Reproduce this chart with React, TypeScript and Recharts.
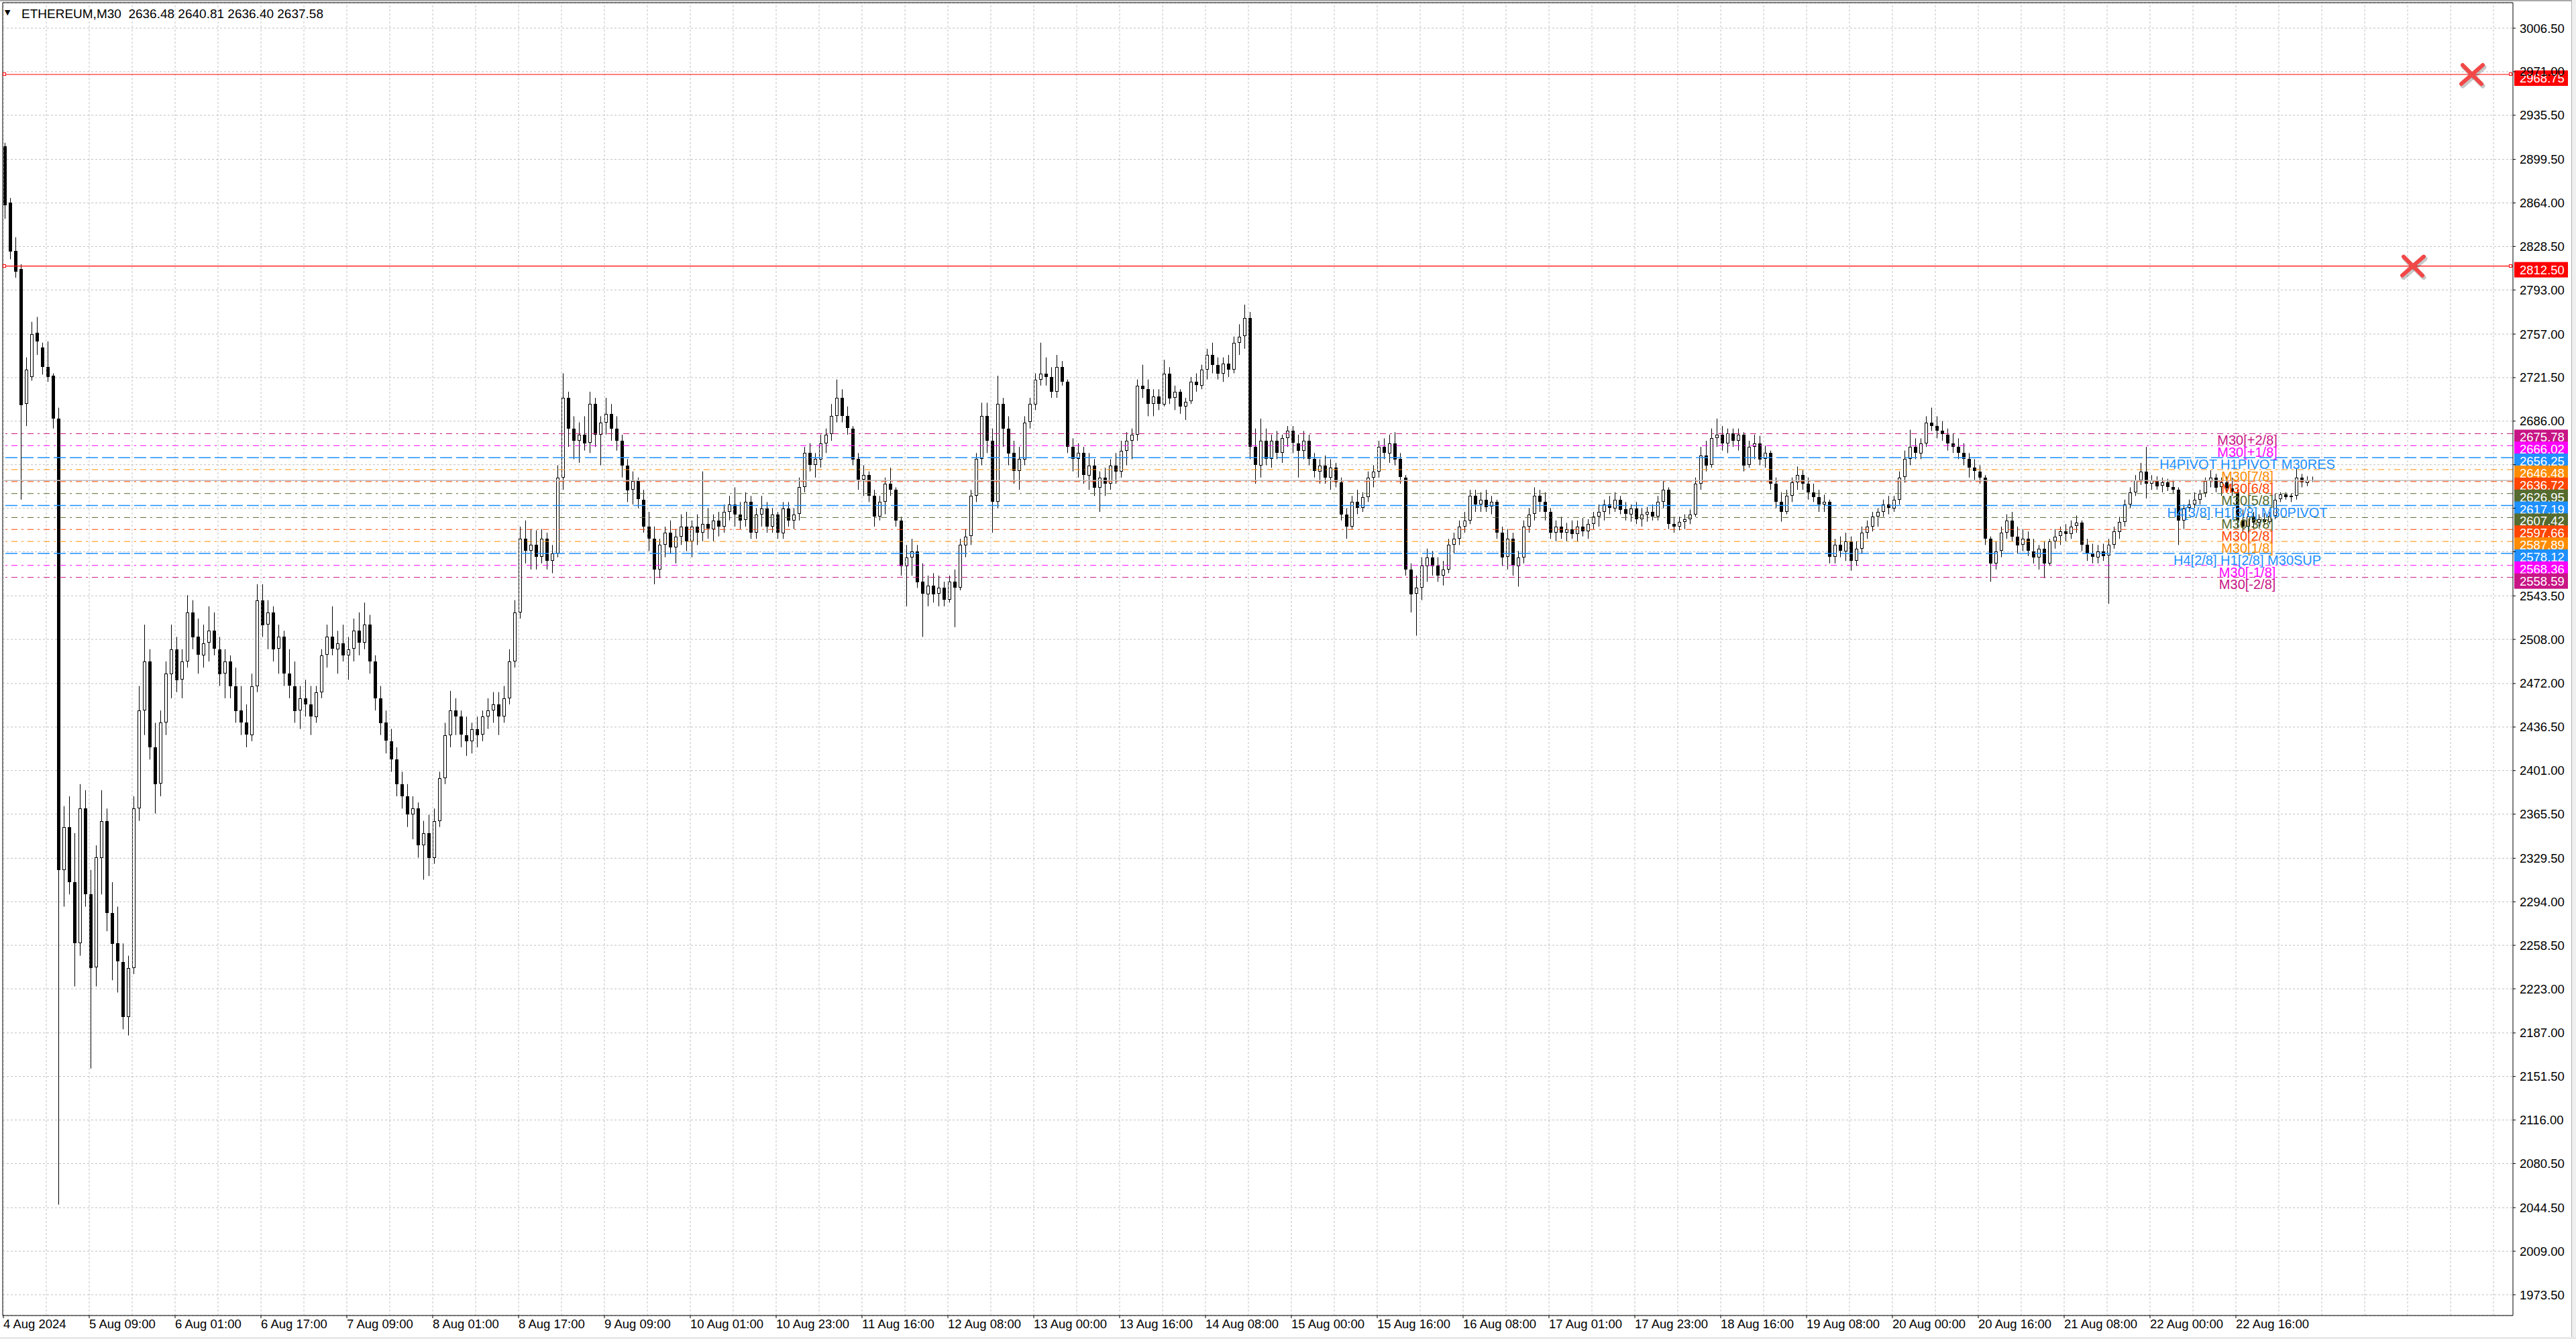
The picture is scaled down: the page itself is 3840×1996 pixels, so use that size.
import React from 'react'
import { ComposedChart, Bar, XAxis, YAxis, CartesianGrid, ReferenceLine, ReferenceDot } from 'recharts'

// ETHEREUM M30, grouped two bars per candle (1h)
const opens = [
  2910, 2864, 2825, 2810, 2700, 2722, 2758, 2746, 2730, 2723,
  2688, 2320, 2355, 2310, 2260, 2370, 2300, 2240, 2330, 2360,
  2285, 2260, 2245, 2200, 2240, 2370, 2450, 2490, 2420, 2390,
  2440, 2480, 2500, 2475, 2490, 2530, 2510, 2495, 2505, 2515,
  2500, 2480, 2490, 2470, 2450, 2440, 2430, 2470, 2540, 2520,
  2530, 2500, 2510, 2480, 2470, 2450, 2460, 2455, 2445, 2465,
  2495, 2510, 2500, 2505, 2495, 2500, 2515, 2505, 2520, 2490,
  2460, 2440, 2425, 2410, 2390, 2380, 2365, 2370, 2340, 2350,
  2330, 2360, 2395, 2430, 2450, 2445, 2430, 2425, 2435, 2430,
  2445, 2450, 2455, 2445, 2460, 2490, 2530, 2590, 2580, 2585,
  2575, 2590, 2572, 2578, 2640, 2705, 2680, 2670, 2675, 2668,
  2700, 2675, 2685, 2692, 2680, 2670, 2650, 2630, 2637, 2622,
  2600, 2590, 2565, 2585, 2595, 2583, 2592, 2600, 2588, 2600,
  2595, 2602, 2598, 2605, 2600, 2612, 2618, 2610, 2605, 2620,
  2595, 2610, 2615, 2600, 2610, 2595, 2615, 2605, 2610, 2632,
  2660, 2650, 2655, 2668, 2675, 2690, 2705, 2690, 2680, 2655,
  2638, 2642, 2625, 2608, 2620, 2635, 2630, 2605, 2568, 2575,
  2580, 2555, 2545, 2552, 2545, 2550, 2540, 2555, 2550, 2585,
  2592, 2625, 2655, 2690, 2670, 2620, 2700, 2680, 2660, 2645,
  2655, 2685, 2700, 2720, 2725, 2722, 2710, 2730, 2718, 2665,
  2655, 2660, 2642, 2650, 2632, 2640, 2635, 2650, 2645, 2662,
  2670, 2675, 2715, 2712, 2700, 2706, 2700, 2725, 2705, 2710,
  2698, 2702, 2718, 2715, 2728, 2740, 2732, 2725, 2733, 2728,
  2750, 2755, 2770, 2665, 2650, 2670, 2655, 2670, 2660, 2672,
  2678, 2668, 2662, 2670, 2655, 2645, 2650, 2640, 2648, 2636,
  2610, 2600, 2620, 2615, 2624, 2640, 2645, 2665, 2660, 2668,
  2655, 2640, 2565, 2545, 2550, 2568, 2575, 2568, 2560, 2565,
  2585, 2590, 2600, 2605, 2625, 2618, 2622, 2616, 2620, 2595,
  2575, 2590, 2568, 2575, 2600, 2610, 2625, 2620, 2612, 2595,
  2600, 2595, 2598, 2594, 2600, 2596, 2602, 2608, 2612, 2618,
  2615, 2622, 2614, 2610, 2615, 2606, 2610, 2612, 2608, 2620,
  2630, 2602, 2600, 2604, 2606, 2610, 2635, 2658, 2650, 2672,
  2675, 2668, 2676, 2670, 2675, 2650, 2665, 2668, 2655, 2660,
  2635, 2620, 2612, 2625, 2636, 2642, 2635, 2628, 2624, 2618,
  2620, 2575, 2585, 2580, 2588, 2572, 2582, 2595, 2600, 2608,
  2612, 2618, 2615, 2622, 2640, 2655, 2665, 2660, 2668, 2685,
  2682, 2678, 2675, 2668, 2665, 2660, 2655, 2648, 2645, 2640,
  2590, 2570, 2580, 2595, 2605, 2592, 2585, 2590, 2580, 2575,
  2582, 2570, 2588, 2592, 2596, 2594, 2600, 2603, 2585, 2578,
  2575, 2580, 2576, 2585, 2596, 2604, 2618, 2628, 2638, 2645,
  2635, 2638, 2633, 2636, 2632, 2630, 2605, 2615, 2618, 2622,
  2627, 2637, 2640, 2632, 2636, 2631, 2628, 2605, 2600, 2608,
  2603, 2606, 2604, 2609, 2622, 2626, 2624, 2625, 2640, 2636, 2637,
]
const highs = [
  2913, 2868, 2836, 2814, 2738, 2767, 2771, 2750, 2751, 2725,
  2697, 2372, 2380, 2350, 2390, 2385, 2320, 2340, 2385, 2370,
  2310, 2290, 2260, 2250, 2380, 2470, 2520, 2500, 2440, 2450,
  2490, 2520, 2510, 2500, 2544, 2540, 2525, 2520, 2535, 2530,
  2510, 2500, 2495, 2485, 2470, 2455, 2480, 2553, 2553, 2540,
  2535, 2520, 2515, 2500, 2490, 2470, 2475, 2470, 2470, 2500,
  2520, 2535, 2515, 2520, 2510, 2525, 2530, 2538, 2528, 2495,
  2470, 2450, 2435, 2420, 2400, 2390, 2380, 2375, 2360, 2365,
  2370, 2400, 2440, 2466, 2460, 2450, 2445, 2440, 2445, 2450,
  2460, 2465, 2465, 2470, 2500, 2540, 2600, 2605, 2598, 2597,
  2598, 2595, 2585, 2650, 2725, 2710, 2690, 2685, 2690, 2710,
  2705, 2690, 2705, 2700, 2690, 2675, 2655, 2645, 2640, 2630,
  2612, 2600, 2590, 2600, 2605, 2598, 2610, 2612, 2605, 2610,
  2645, 2615, 2610, 2612, 2618, 2625, 2632, 2620, 2628, 2625,
  2615, 2625, 2620, 2615, 2612, 2620, 2620, 2615, 2640, 2665,
  2668, 2660, 2675, 2680, 2700, 2720, 2712, 2698, 2682, 2660,
  2650, 2645, 2630, 2625, 2640, 2648, 2632, 2608, 2585, 2590,
  2585, 2570, 2560, 2562, 2560, 2555, 2560, 2565, 2590, 2598,
  2630, 2660, 2701, 2701, 2680, 2723, 2705, 2690, 2670, 2665,
  2690, 2705, 2725, 2750, 2738, 2730, 2740, 2735, 2720, 2672,
  2668, 2665, 2660, 2655, 2645, 2648, 2655, 2660, 2670, 2677,
  2680, 2720, 2732, 2720, 2712, 2712, 2736, 2730, 2715, 2712,
  2705, 2722, 2725, 2732, 2745, 2750, 2738, 2738, 2740, 2755,
  2765, 2781, 2775, 2680, 2688, 2680, 2675, 2678, 2675, 2682,
  2682, 2675, 2678, 2675, 2660, 2655, 2658, 2655, 2652, 2640,
  2615, 2625, 2630, 2628, 2645, 2650, 2670, 2672, 2675, 2677,
  2660, 2642, 2570, 2560, 2575, 2582, 2580, 2575, 2572, 2590,
  2595, 2605, 2612, 2630, 2630, 2628, 2630, 2625, 2622, 2600,
  2598, 2595, 2580, 2605, 2615, 2632, 2630, 2628, 2615, 2605,
  2608, 2603, 2605, 2605, 2607, 2606, 2612, 2618, 2622, 2625,
  2628, 2625, 2620, 2618, 2620, 2615, 2616, 2618, 2625, 2637,
  2632, 2608, 2608, 2610, 2614, 2640, 2665, 2670, 2680, 2688,
  2682, 2680, 2680, 2680, 2677, 2670, 2675, 2674, 2666, 2662,
  2640, 2628, 2630, 2640, 2649, 2646, 2640, 2635, 2630, 2626,
  2622, 2590, 2592, 2595, 2592, 2588, 2600, 2605, 2612, 2615,
  2622, 2625, 2625, 2645, 2662, 2679, 2672, 2672, 2690, 2697,
  2690, 2686, 2680, 2676, 2672, 2668, 2660, 2655, 2650, 2642,
  2592, 2588, 2600, 2610, 2612, 2600, 2598, 2596, 2590, 2585,
  2588, 2590, 2598, 2600, 2602, 2605, 2609, 2605, 2590, 2586,
  2585, 2586, 2590, 2600, 2608, 2622, 2632, 2642, 2652, 2665,
  2642, 2641, 2640, 2639, 2638, 2632, 2618, 2622, 2628, 2630,
  2640, 2646, 2643, 2640, 2641, 2640, 2630, 2614, 2612, 2612,
  2610, 2611, 2612, 2627, 2628, 2628, 2627, 2647, 2643, 2641, 2640.81,
]
const lows = [
  2851, 2818, 2803, 2622, 2682, 2719, 2740, 2724, 2718, 2680,
  2047, 2290, 2300, 2225, 2250, 2290, 2158, 2225, 2300, 2270,
  2230, 2220, 2190, 2185, 2235, 2360, 2430, 2410, 2366, 2380,
  2430, 2460, 2465, 2460, 2485, 2500, 2480, 2485, 2490, 2495,
  2470, 2460, 2460, 2440, 2430, 2420, 2425, 2465, 2510, 2500,
  2490, 2480, 2470, 2460, 2440, 2435, 2445, 2430, 2440, 2460,
  2485, 2495, 2480, 2490, 2475, 2490, 2495, 2500, 2480, 2450,
  2430, 2415, 2400, 2380, 2370, 2355, 2345, 2330, 2312, 2315,
  2325, 2355, 2390, 2420, 2430, 2420, 2413, 2415, 2420, 2425,
  2435, 2440, 2430, 2440, 2455, 2485, 2525, 2570, 2565, 2565,
  2570, 2565, 2562, 2575, 2630, 2665, 2655, 2652, 2662, 2660,
  2665, 2650, 2675, 2670, 2662, 2640, 2620, 2618, 2615, 2595,
  2580, 2553, 2558, 2575, 2578, 2570, 2585, 2580, 2575, 2585,
  2588, 2590, 2588, 2592, 2595, 2605, 2600, 2598, 2600, 2590,
  2590, 2600, 2595, 2595, 2590, 2590, 2600, 2598, 2605, 2628,
  2645, 2640, 2648, 2660, 2670, 2685, 2685, 2675, 2650, 2630,
  2625, 2620, 2600, 2605, 2610, 2625, 2600, 2560, 2535, 2560,
  2550, 2510, 2535, 2538, 2535, 2535, 2538, 2518, 2548, 2575,
  2585, 2620, 2650, 2660, 2595, 2615, 2665, 2650, 2635, 2630,
  2650, 2680, 2695, 2715, 2715, 2705, 2705, 2715, 2660, 2645,
  2640, 2635, 2630, 2625, 2612, 2625, 2630, 2635, 2640, 2650,
  2655, 2670, 2705, 2690, 2690, 2695, 2698, 2700, 2695, 2692,
  2687, 2700, 2710, 2712, 2720, 2725, 2720, 2718, 2722, 2725,
  2740, 2745, 2655, 2635, 2640, 2650, 2648, 2655, 2652, 2665,
  2660, 2640, 2655, 2650, 2640, 2635, 2635, 2630, 2632, 2605,
  2590, 2598, 2610, 2612, 2620, 2632, 2640, 2655, 2652, 2650,
  2635, 2560, 2530, 2511, 2540, 2555, 2560, 2555, 2552, 2562,
  2578, 2585, 2595, 2602, 2612, 2612, 2612, 2610, 2590, 2568,
  2565, 2560, 2551, 2570, 2595, 2605, 2612, 2605, 2590, 2588,
  2590, 2588, 2590, 2588, 2592, 2590, 2598, 2600, 2605, 2610,
  2612, 2610, 2605, 2604, 2602, 2600, 2604, 2605, 2605, 2615,
  2598, 2595, 2597, 2598, 2602, 2608, 2630, 2645, 2648, 2665,
  2662, 2660, 2665, 2662, 2645, 2648, 2655, 2650, 2648, 2630,
  2615, 2604, 2610, 2620, 2630, 2630, 2622, 2620, 2612, 2612,
  2570, 2570, 2575, 2572, 2564, 2568, 2578, 2590, 2596, 2600,
  2608, 2610, 2612, 2618, 2636, 2650, 2655, 2655, 2665, 2678,
  2672, 2670, 2662, 2660, 2655, 2650, 2640, 2638, 2635, 2585,
  2555, 2565, 2575, 2590, 2588, 2578, 2580, 2576, 2570, 2565,
  2558, 2568, 2582, 2585, 2588, 2590, 2595, 2580, 2572, 2570,
  2570, 2572, 2537, 2582, 2590, 2600, 2615, 2625, 2634, 2623,
  2630, 2630, 2628, 2629, 2627, 2585, 2598, 2612, 2615, 2618,
  2624, 2632, 2628, 2625, 2628, 2625, 2599, 2596, 2595, 2598,
  2600, 2601, 2602, 2606, 2620, 2622, 2620, 2622, 2632, 2633, 2636.4,
]
const closes = [
  2862, 2824, 2808, 2699, 2728, 2757, 2751, 2730, 2722, 2688,
  2320, 2355, 2310, 2260, 2370, 2300, 2240, 2330, 2360, 2285,
  2260, 2245, 2200, 2240, 2370, 2450, 2490, 2420, 2390, 2440,
  2480, 2500, 2475, 2490, 2530, 2510, 2495, 2505, 2515, 2500,
  2480, 2490, 2470, 2450, 2440, 2430, 2470, 2540, 2520, 2530,
  2500, 2510, 2480, 2470, 2450, 2460, 2455, 2445, 2465, 2495,
  2510, 2500, 2505, 2495, 2500, 2515, 2505, 2520, 2490, 2460,
  2440, 2425, 2410, 2390, 2380, 2365, 2370, 2340, 2350, 2330,
  2360, 2395, 2430, 2450, 2445, 2430, 2425, 2435, 2430, 2445,
  2450, 2455, 2445, 2460, 2490, 2530, 2590, 2580, 2585, 2575,
  2590, 2572, 2578, 2640, 2705, 2680, 2670, 2675, 2668, 2700,
  2675, 2685, 2692, 2680, 2670, 2650, 2630, 2637, 2622, 2600,
  2590, 2565, 2585, 2595, 2583, 2592, 2600, 2588, 2600, 2595,
  2602, 2598, 2605, 2600, 2612, 2618, 2610, 2605, 2620, 2595,
  2610, 2615, 2600, 2610, 2595, 2615, 2605, 2610, 2632, 2660,
  2650, 2655, 2668, 2675, 2690, 2705, 2690, 2680, 2655, 2638,
  2642, 2625, 2608, 2620, 2635, 2630, 2605, 2568, 2575, 2580,
  2555, 2545, 2552, 2545, 2550, 2540, 2555, 2550, 2585, 2592,
  2625, 2655, 2690, 2670, 2620, 2700, 2680, 2660, 2645, 2655,
  2685, 2700, 2720, 2725, 2722, 2710, 2730, 2718, 2665, 2655,
  2660, 2642, 2650, 2632, 2640, 2635, 2650, 2645, 2662, 2670,
  2675, 2715, 2712, 2700, 2706, 2700, 2725, 2705, 2710, 2698,
  2702, 2718, 2715, 2728, 2740, 2732, 2725, 2733, 2728, 2750,
  2755, 2770, 2665, 2650, 2670, 2655, 2670, 2660, 2672, 2678,
  2668, 2662, 2670, 2655, 2645, 2650, 2640, 2648, 2636, 2610,
  2600, 2620, 2615, 2624, 2640, 2645, 2665, 2660, 2668, 2655,
  2640, 2565, 2545, 2550, 2568, 2575, 2568, 2560, 2565, 2585,
  2590, 2600, 2605, 2625, 2618, 2622, 2616, 2620, 2595, 2575,
  2590, 2568, 2575, 2600, 2610, 2625, 2620, 2612, 2595, 2600,
  2595, 2598, 2594, 2600, 2596, 2602, 2608, 2612, 2618, 2615,
  2622, 2614, 2610, 2615, 2606, 2610, 2612, 2608, 2620, 2630,
  2602, 2600, 2604, 2606, 2610, 2635, 2658, 2650, 2672, 2675,
  2668, 2676, 2670, 2675, 2650, 2665, 2668, 2655, 2660, 2635,
  2620, 2612, 2625, 2636, 2642, 2635, 2628, 2624, 2618, 2620,
  2575, 2585, 2580, 2588, 2572, 2582, 2595, 2600, 2608, 2612,
  2618, 2615, 2622, 2640, 2655, 2665, 2660, 2668, 2685, 2682,
  2678, 2675, 2668, 2665, 2660, 2655, 2648, 2645, 2640, 2590,
  2570, 2580, 2595, 2605, 2592, 2585, 2590, 2580, 2575, 2582,
  2570, 2588, 2592, 2596, 2594, 2600, 2603, 2585, 2578, 2575,
  2580, 2576, 2585, 2596, 2604, 2618, 2628, 2638, 2645, 2635,
  2638, 2633, 2636, 2632, 2630, 2605, 2615, 2618, 2622, 2627,
  2637, 2640, 2632, 2636, 2631, 2628, 2605, 2600, 2608, 2603,
  2606, 2604, 2609, 2622, 2626, 2624, 2625, 2640, 2636, 2638, 2637.58,
]

const timeLabels = [
  '4 Aug 2024', '5 Aug 09:00', '6 Aug 01:00', '6 Aug 17:00', '7 Aug 09:00', '8 Aug 01:00',
  '8 Aug 17:00', '9 Aug 09:00', '10 Aug 01:00', '10 Aug 23:00', '11 Aug 16:00', '12 Aug 08:00',
  '13 Aug 00:00', '13 Aug 16:00', '14 Aug 08:00', '15 Aug 00:00', '15 Aug 16:00', '16 Aug 08:00',
  '17 Aug 01:00', '17 Aug 23:00', '18 Aug 16:00', '19 Aug 08:00', '20 Aug 00:00', '20 Aug 16:00',
  '21 Aug 08:00', '22 Aug 00:00', '22 Aug 16:00',
]
const priceTicks = [
  3006.5, 2971, 2935.5, 2899.5, 2864, 2828.5, 2793, 2757, 2721.5, 2686,
  2650.5, 2615, 2579.5, 2543.5, 2508, 2472, 2436.5, 2401, 2365.5, 2329.5,
  2294, 2258.5, 2223, 2187, 2151.5, 2116, 2080.5, 2044.5, 2009, 1973.5,
]
const levelPrices = [2675.78, 2666.02, 2656.25, 2646.48, 2636.72, 2626.95, 2617.19, 2607.42, 2597.66, 2587.89, 2578.12, 2568.36, 2558.59]
const levelNames = [
  'M30[+2/8]', 'M30[+1/8]', 'H4PIVOT H1PIVOT M30RES', 'M30[7/8]', 'M30[6/8]', 'M30[5/8]',
  'H4[3/8] H1[3/8] M30PIVOT', 'M30[3/8]', 'M30[2/8]', 'M30[1/8]', 'H4[2/8] H1[2/8] M30SUP',
  'M30[-1/8]', 'M30[-2/8]',
]
const alertPrices = [2968.75, 2812.5]
const alertBars = [920, 898]
const bidPrice = 2637.58
const symbol = 'ETHEREUM,M30'
const lastBar = [2636.48, 2640.81, 2636.4, 2637.58]

const FONT = '"Liberation Sans", Arial, sans-serif'
const LEVEL_COLORS = ['#C71585', '#FF00FF', '#1E90FF', '#FF8C00', '#FF4500', '#556B2F', '#1E90FF', '#556B2F', '#FF4500', '#FF8C00', '#1E90FF', '#FF00FF', '#C71585']
const BAR_MIN = -0.25
const BAR_MAX = 935.25
const P_MIN = 1956.55
const P_MAX = 3027.3

const data = closes.map((c, k) => ({ bar: 2 * k + 0.5, o: opens[k], h: highs[k], l: lows[k], c, range: [lows[k], highs[k]] }))
const labelBars = timeLabels.map((_, i) => i * 32)
const gridBars = Array.from({ length: 59 }, (_, i) => i * 16)
// tick labels that sit fully under the stack of level price boxes
const boxTop = levelPrices[0] + 4
const boxBottom = levelPrices[levelPrices.length - 1] - 8

function Candle(props: any) {
  const { x, y, width, height, payload } = props
  if (!payload) return null
  const { o, h, l, c } = payload
  const top = Math.min(y, y + height)
  const span = Math.abs(height)
  const k = h > l ? span / (h - l) : 0
  const yO = top + (h - o) * k
  const yC = top + (h - c) * k
  const cx = Math.round(x + width / 2)
  const bodyTop = Math.round(Math.min(yO, yC))
  const bodyH = Math.max(1, Math.round(Math.abs(yC - yO)))
  const up = c >= o
  return (
    <g>
      <line x1={cx + 0.5} x2={cx + 0.5} y1={top} y2={top + span} stroke="#000" strokeWidth={1} />
      <rect x={cx - 1.5} y={bodyTop + 0.5} width={4} height={Math.max(0, bodyH - 1)} fill={up ? '#fff' : '#000'} stroke="#000" strokeWidth={1} />
    </g>
  )
}

function TimeTick(props: any) {
  const { x, y, payload } = props
  return (
    <text x={x} y={y} dy={13} fontFamily={FONT} fontSize={18.5} fill="#000">
      {timeLabels[Math.round(payload.value / 32)]}
    </text>
  )
}

function PriceTick(props: any) {
  const { x, y, payload } = props
  const v = Number(payload.value)
  if (v < boxTop && v > boxBottom) return null
  return (
    <text x={x} y={y} dy={6.5} fontFamily={FONT} fontSize={18.5} fill="#000">
      {v.toFixed(2)}
    </text>
  )
}

function priceLabel(price: number, color: string, name?: string) {
  return (p: any) => {
    const vb = p.viewBox
    if (!vb) return null
    const right = vb.x + vb.width
    return (
      <g>
        {name && (
          <text x={vb.x + vb.width * 0.8942} y={vb.y + 17} textAnchor="middle" fontFamily={FONT} fontSize={20} fill={color}>
            {name}
          </text>
        )}
        <rect x={right + 2} y={vb.y - 6} width={80} height={23} fill={color} />
        <text x={right + 10} y={vb.y + 12} fontFamily={FONT} fontSize={18.5} fill="#fff">
          {price.toFixed(2)}
        </text>
      </g>
    )
  }
}

function CrossMark(props: any) {
  const { cx, cy } = props
  const sx = 16
  const sy = 14
  return (
    <g strokeLinecap="round">
      <g stroke="rgba(0,0,0,0.22)" strokeWidth={7} transform="translate(2,3)">
        <line x1={cx - sx} y1={cy + sy} x2={cx + sx} y2={cy - sy} />
        <line x1={cx - sx + 2} y1={cy - sy} x2={cx + sx - 2} y2={cy + sy} />
      </g>
      <g stroke="#F24848" strokeWidth={6}>
        <line x1={cx - sx} y1={cy + sy} x2={cx + sx} y2={cy - sy} />
        <line x1={cx - sx + 2} y1={cy - sy} x2={cx + sx - 2} y2={cy + sy} />
      </g>
    </g>
  )
}

function EndSquare(props: any) {
  const { cx, cy } = props
  return <rect x={Math.round(cx) - 2.5} y={Math.round(cy) - 2.5} width={4} height={4} fill="#fff" stroke="#FF0000" strokeWidth={1} />
}

export default function App() {
  return (
    <div style={{ position: 'relative', width: 3840, height: 1996, background: '#fff', overflow: 'hidden' }}>
      <style>{'body{margin:0}'}</style>
      <ComposedChart width={3840} height={1996} data={data} margin={{ top: 4, right: 0, bottom: 0, left: 4 }}>
        <CartesianGrid vertical={false} stroke="#C0C0C0" strokeDasharray="3 3" />
        {gridBars.map((b) => (
          <ReferenceLine key={'g' + b} x={b} stroke="#C0C0C0" strokeDasharray="3 3" />
        ))}
        <XAxis
          dataKey="bar"
          type="number"
          domain={[BAR_MIN, BAR_MAX]}
          allowDataOverflow
          ticks={labelBars}
          interval={0}
          height={35}
          tickSize={4}
          tickMargin={2}
          axisLine={{ stroke: '#000' }}
          tickLine={{ stroke: '#000' }}
          tick={<TimeTick />}
        />
        <YAxis
          orientation="right"
          type="number"
          domain={[P_MIN, P_MAX]}
          allowDataOverflow
          ticks={priceTicks}
          interval={0}
          width={94}
          tickSize={4}
          tickMargin={6}
          axisLine={{ stroke: '#000' }}
          tickLine={{ stroke: '#000' }}
          tick={<PriceTick />}
        />
        <ReferenceLine x={BAR_MIN} stroke="#000" />
        <ReferenceLine y={P_MAX} stroke="#000" />
        <ReferenceLine y={bidPrice} stroke="#BDBDBD" strokeWidth={1.5} />
        {levelPrices.map((p, i) => {
          const blue = LEVEL_COLORS[i] === '#1E90FF'
          return (
            <ReferenceLine
              key={'lv' + i}
              y={p}
              stroke={LEVEL_COLORS[i]}
              strokeWidth={blue ? 1.5 : 1}
              strokeDasharray={blue ? '18 6' : '9 6 3 6'}
              label={priceLabel(p, LEVEL_COLORS[i], levelNames[i])}
            />
          )
        })}
        {alertPrices.map((p, i) => (
          <ReferenceLine key={'al' + i} y={p} stroke="#FF0000" strokeWidth={1.2} label={priceLabel(p, '#FF0000')} />
        ))}
        <Bar dataKey="range" barSize={5} shape={(p: any) => <Candle {...p} />} isAnimationActive={false} />
        {alertPrices.map((p, i) => (
          <ReferenceDot key={'sqr' + i} x={934.6} y={p} r={3} shape={(s: any) => <EndSquare {...s} />} />
        ))}
        {alertPrices.map((p, i) => (
          <ReferenceDot key={'sql' + i} x={0.6} y={p} r={3} shape={(s: any) => <EndSquare {...s} />} />
        ))}
        {alertPrices.map((p, i) => (
          <ReferenceDot key={'x' + i} x={alertBars[i]} y={p} r={16} shape={(s: any) => <CrossMark {...s} />} />
        ))}
      </ComposedChart>
      <div style={{ position: 'absolute', left: 7, top: 13, fontFamily: 'DejaVu Sans, sans-serif', fontSize: 11, lineHeight: '12px' }}>▼</div>
      <div style={{ position: 'absolute', left: 32, top: 11, fontFamily: FONT, fontSize: 19, lineHeight: '20px', whiteSpace: 'pre', color: '#000' }}>
        {symbol + '  ' + lastBar.map((v) => v.toFixed(2)).join(' ')}
      </div>
      <div style={{ position: 'absolute', left: 0, top: 0, width: 3840, height: 2, background: '#A8A8A8' }} />
      <div style={{ position: 'absolute', left: 3833, top: 0, width: 7, height: 1996, background: '#F0F0F0', borderLeft: '1px solid #B0B0B0' }} />
      <div style={{ position: 'absolute', left: 0, top: 1993, width: 3840, height: 3, background: '#E8E8E8' }} />
    </div>
  )
}
